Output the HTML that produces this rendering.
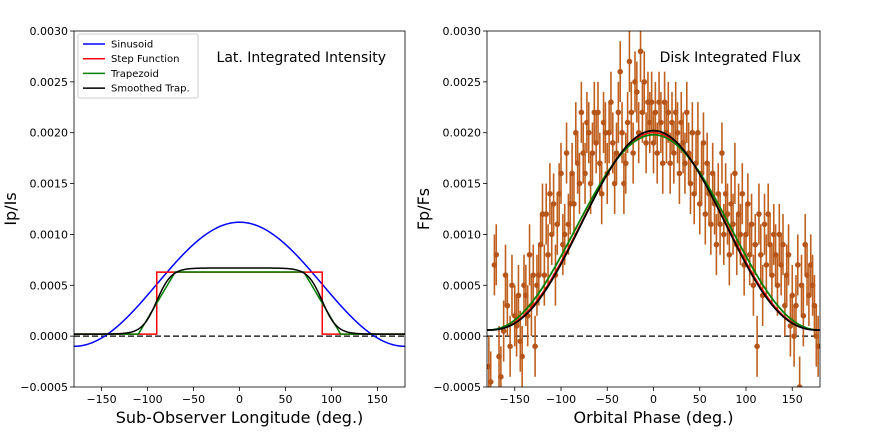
<!DOCTYPE html>
<html><head><meta charset="utf-8"><style>
body{margin:0;background:#fff}
svg{font-family:"DejaVu Sans","Liberation Sans",sans-serif}
</style></head><body>
<svg id="c" width="872" height="436" viewBox="0 0 872 436" xmlns="http://www.w3.org/2000/svg"></svg>
<script>
const xTicks=[-150,-100,-50,0,50,100,150];
const xTickLabels=["\u2212150","\u2212100","\u221250","0","50","100","150"];
const yTicks=[-0.0005,0,0.0005,0.0010,0.0015,0.0020,0.0025,0.0030];
const yTickLabels=["\u22120.0005","0.0000","0.0005","0.0010","0.0015","0.0020","0.0025","0.0030"];
const phases=[-178,-176,-172,-170,-167,-165,-162,-160,-158,-155,-153,-150,-148,-146,-144,-142,-140,-138,-136,-134,-132,-130,-128,-126,-124,-122,-120,-118,-116,-114,-112,-110,-108,-106,-104,-102,-100,-98,-96,-94,-92,-90,-88,-86,-84,-82,-80,-78,-76,-74,-72,-70,-68,-66,-64,-62,-60,-58,-56,-54,-52,-50,-48,-46,-44,-42,-40,-38,-36,-34,-32,-30,-28,-26,-24,-22,-20,-18,-16,-14,-12,-10,-8,-6,-4,-2,0,2,4,6,8,10,12,14,16,18,20,22,24,26,28,30,32,34,36,38,40,42,44,46,48,50,52,54,56,58,60,62,64,66,68,70,72,74,76,78,80,82,84,86,88,90,92,94,96,98,100,102,104,106,108,110,112,114,116,118,120,122,124,126,128,130,132,134,136,138,140,142,144,146,148,150,152,154,156,158,160,162,164,166,168,170,172,174,176,178];
const fluxE4=[-3,-4.5,7,8,-2,-4,0.5,6,3,-1,5,2,1,4,-0.5,-2,5,4,2,8,3,6,-1,5,6,9,12,6,12,8,14,10,13,6,11,14,16,9,10,18,11,13,16,13,20,17,15,22,18,16,21,20,15,18,22,19,22,17,14,21,20,16,20,23,19,15,18,22,26,20,15,17,21,27,22,18,25,24,20,28,22,25,19,23,21,23,19,22,18,23,21,17,23,20,22,17,21,18,22,20,16,21,19,17,22,18,15,20,14,17,20,13,16,19,12,17,14,11,16,13,9,14,11,18,10,14,12,8,13,11,16,9,12,10,14,7,10,13,8,11,5,9,-1,12,8,4,11,7,12,9,6,10,8,5,10,7,9,3,6,8,1,4,0,3,7,-5,5,2,9,6,4,7,5,3,0,-1];
const errE4=3;
const sinAmp=0.00061, sinOff=0.00051, stepHigh=0.00063, stepLow=0.00002;
const diskPeak=0.00194, diskBase=0.00006;

const svg=document.getElementById('c');const NS="http://www.w3.org/2000/svg";
function mk(t,a,p,name,txt){const e=document.createElementNS(NS,t);for(const k in a)e.setAttribute(k,a[k]);


if(txt!==undefined)e.textContent=txt;(p||svg).appendChild(e);return e;}
const Y0=31,Y1=387;
function Y(v){return Y1-(v+0.0005)/0.0035*(Y1-Y0);}
function panel(x0,x1,ylab,xlab,title,key){
  const X=v=>x0+(v+180)/360*(x1-x0);
  const g=mk('g',{},svg,key+'-panel');
  xTicks.forEach((t,i)=>{mk('line',{x1:X(t),x2:X(t),y1:Y1,y2:Y1+4,stroke:'#000','stroke-width':0.8},g,'x-tick');
    mk('text',{x:X(t),y:Y1+16,'font-size':11,'text-anchor':'middle'},g,'x-tick-label',xTickLabels[i]);});
  yTicks.forEach((t,i)=>{mk('line',{x1:x0-4,x2:x0,y1:Y(t),y2:Y(t),stroke:'#000','stroke-width':0.8},g,'y-tick');
    mk('text',{x:x0-6,y:Y(t)+4,'font-size':11,'text-anchor':'end'},g,'y-tick-label',yTickLabels[i]);});
  mk('text',{x:(x0+x1)/2,y:Y1+36,'font-size':16,'text-anchor':'middle'},g,'x-axis-title',xlab);
  mk('text',{x:0,y:0,'font-size':16,'text-anchor':'middle',transform:`translate(${x0-58},${(Y0+Y1)/2}) rotate(-90)`},g,'y-axis-title',ylab);
  mk('text',{x:x1-19,y:62,'font-size':14,'text-anchor':'end'},g,'panel-title',title);
  return {g,X};
}
function curve(g,X,f,color,name,w){let d='';for(let x=-180;x<=180;x+=1){d+=(x==-180?'M':'L')+X(x).toFixed(2)+','+Y(f(x)).toFixed(2);}
  mk('path',{d,fill:'none',stroke:color,'stroke-width':w||1.5},g,name);}
const rad=x=>x*Math.PI/180;
// Left
const L=panel(74,405,'Ip/Is','Sub-Observer Longitude (deg.)','Lat. Integrated Intensity','left');
mk('line',{x1:74,x2:405,y1:Y(0),y2:Y(0),stroke:'#000','stroke-width':1.3,'stroke-dasharray':'6,3'},L.g,'zero-line');
curve(L.g,L.X,x=>sinOff+sinAmp*Math.cos(rad(x)),'#0000ff','sinusoid-line');
(function(){const X=L.X;const d=`M${X(-180)},${Y(stepLow)}L${X(-90)},${Y(stepLow)}L${X(-90)},${Y(stepHigh)}L${X(90)},${Y(stepHigh)}L${X(90)},${Y(stepLow)}L${X(180)},${Y(stepLow)}`;
mk('path',{d,fill:'none',stroke:'#ff0000','stroke-width':1.5},L.g,'step-function-line');})();
curve(L.g,L.X,x=>{const a=Math.abs(x);if(a<70)return stepHigh;if(a>110)return stepLow;return stepLow+(stepHigh-stepLow)*(110-a)/40;},'#008000','trapezoid-line');
curve(L.g,L.X,x=>stepLow+0.00065*0.5*(1-Math.tanh((Math.abs(x)-90)/16)),'#000','smoothed-trap-line');
mk('rect',{x:74,y:Y0,width:331,height:Y1-Y0,fill:'none',stroke:'#000','stroke-width':0.8},L.g,'left-axes-frame');
// legend
const lg=mk('g',{},L.g,'legend');
mk('rect',{x:78,y:34,width:120,height:64,fill:'#fff',stroke:'#ccc',rx:2},lg,'legend-box');
[['Sinusoid','#0000ff'],['Step Function','#ff0000'],['Trapezoid','#008000'],['Smoothed Trap.','#000']].forEach((e,i)=>{const y=44+i*14.7;
  mk('line',{x1:83,x2:105,y1:y,y2:y,stroke:e[1],'stroke-width':1.5},lg,'legend-entry-line');
  mk('text',{x:111,y:y+3.5,'font-size':10},lg,'legend-entry',e[0]);});
// Right
const R=panel(487,820,'Fp/Fs','Orbital Phase (deg.)','Disk Integrated Flux','right');
mk('line',{x1:487,x2:820,y1:Y(0),y2:Y(0),stroke:'#000','stroke-width':1.3,'stroke-dasharray':'6,3'},R.g,'zero-line');
const cp=mk('clipPath',{id:'rc'},svg,'clip');mk('rect',{x:487,y:Y0,width:333,height:Y1-Y0},cp,'clip-rect');
const dg=mk('g',{'clip-path':'url(#rc)'},R.g,'data-points');
phases.forEach((p,i)=>{const v=fluxE4[i]*1e-4,e=errE4*1e-4;
  mk('line',{x1:R.X(p),x2:R.X(p),y1:Y(v-e),y2:Y(v+e),stroke:'#c0601f','stroke-width':1.6},dg,'error-bar');
  mk('circle',{cx:R.X(p),cy:Y(v),r:2.8,fill:'#b5551a'},dg,'data-point');});
const bell=(x,pw)=>Math.pow((1+Math.cos(rad(x)))/2,pw);
curve(R.g,R.X,x=>diskBase+diskPeak*bell(x,1.2),'#ff0000','step-model-curve',1.2);
curve(R.g,R.X,x=>diskBase+0.00192*bell(x,1.1),'#008000','trapezoid-model-curve',1.8);
curve(R.g,R.X,x=>diskBase+0.00196*bell(x,1.25),'#000','smoothed-model-curve',1.8);
mk('rect',{x:487,y:Y0,width:333,height:Y1-Y0,fill:'none',stroke:'#000','stroke-width':0.8},R.g,'right-axes-frame');
</script>
</body></html>
